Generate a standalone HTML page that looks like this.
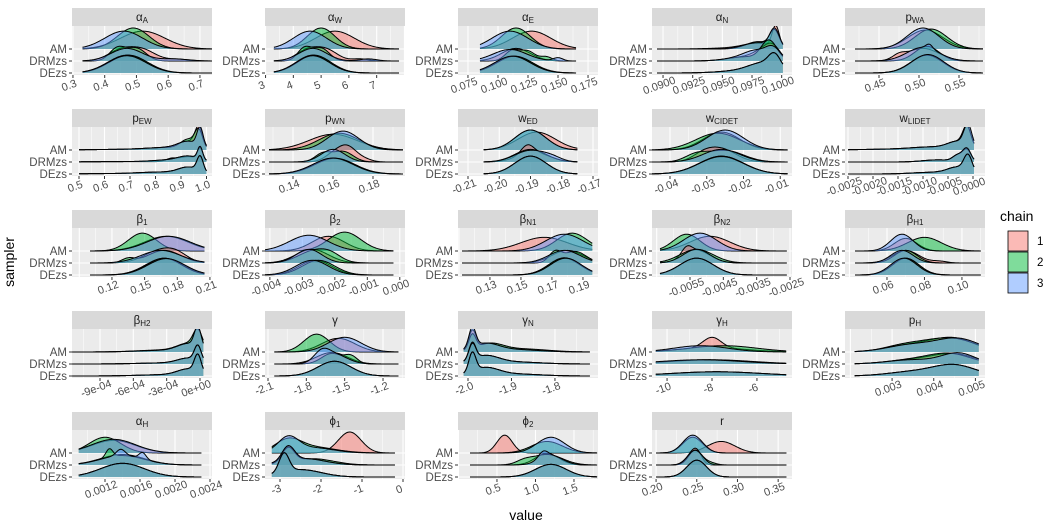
<!DOCTYPE html>
<html><head><meta charset="utf-8"><style>
html,body{margin:0;padding:0;background:#fff;}
svg{display:block;font-family:"Liberation Sans",sans-serif;}
</style></head><body>
<svg id="chart" width="1051" height="528" viewBox="0 0 1051 528">
<defs id="defs"></defs>
<g id="plot"></g>
<text x="14" y="262" transform="rotate(-90 14 262)" text-anchor="middle" font-size="14" fill="#000">sampler</text>
<text x="526" y="520" text-anchor="middle" font-size="14" fill="#000">value</text>
<g>
<text x="1000" y="221" font-size="14" fill="#000">chain</text>
<rect x="1008" y="231" width="20" height="20" fill="#F8766D" fill-opacity="0.5" stroke="#000" stroke-width="0.8"/>
<rect x="1008" y="252" width="20" height="20" fill="#00BA38" fill-opacity="0.5" stroke="#000" stroke-width="0.8"/>
<rect x="1008" y="273" width="20" height="20" fill="#619CFF" fill-opacity="0.5" stroke="#000" stroke-width="0.8"/>
<text x="1037" y="245" font-size="11.5" fill="#000">1</text>
<text x="1037" y="266" font-size="11.5" fill="#000">2</text>
<text x="1037" y="287" font-size="11.5" fill="#000">3</text>
</g>
</svg>
<script>
const facetBase = ["α","α","α","α","p","p","p","w","w","w","β","β","β","β","β","β","γ","γ","γ","p","α","ϕ","ϕ","r"];
const facetSub = ["A","W","E","N","WA","EW","WN","ED","CIDET","LIDET","1","2","N1","N2","H1","H2","","N","H","H","H","1","2",""];
const facetDomains = [[0.297,0.738],[2.98,8.02],[0.0667,0.1833],[0.08907,0.10087],[0.4075,0.5825],
[0.4725,1.0216],[0.126,0.196],[-0.2132,-0.1684],[-0.0449,-0.0068],[-0.00256,0.00024],
[0.0833,0.2119],[-0.00415,0.00016],[0.1094,0.1997],[-0.00664,-0.00244],[0.0376,0.1123],
[-0.001152,0.000108],[-2.1235,-1.028],[-2.023,-1.701],[-10.67,-4.44],[0.00187,0.00523],
[0.000823,0.002423],[-3.366,0.049],[-0.006,1.812],[0.195,0.367]];
const facetRanges = [[0.33,0.77],[3.3,7.8],[0.085,0.165],[0.0895,0.1001],[0.42,0.58],
[0.5,1.0],[0.128,0.195],[-0.205,-0.175],[-0.045,-0.008],[-0.0025,0.00002],
[0.1,0.205],[-0.0042,-0.0002],[0.112,0.196],[-0.0064,-0.0026],[0.043,0.11],
[-0.00115,0.00003],[-2.05,-1.08],[-2.01,-1.72],[-10.5,-4.7],[0.0021,0.00508],
[0.0009,0.0023],[-3.2,-0.2],[0.15,1.8],[0.2,0.36]];
const facetTicks = [[0.3,0.4,0.5,0.6,0.7],[3,4,5,6,7],[0.075,0.1,0.125,0.15,0.175],[0.09,0.0925,0.095,0.0975,0.1],[0.45,0.5,0.55],
[0.5,0.6,0.7,0.8,0.9,1.0],[0.14,0.16,0.18],[-0.21,-0.2,-0.19,-0.18,-0.17],[-0.04,-0.03,-0.02,-0.01],[-0.0025,-0.002,-0.0015,-0.001,-0.0005,0],
[0.12,0.15,0.18,0.21],[-0.004,-0.003,-0.002,-0.001,0],[0.13,0.15,0.17,0.19],[-0.0055,-0.0045,-0.0035,-0.0025],[0.06,0.08,0.1],
[-0.0009,-0.0006,-0.0003,0],[-2.1,-1.8,-1.5,-1.2],[-2.0,-1.9,-1.8],[-10,-8,-6],[0.003,0.004,0.005],
[0.0012,0.0016,0.002,0.0024],[-3,-2,-1,0],[0.5,1.0,1.5],[0.2,0.25,0.3,0.35]];
const facetTickLabels = [["0.3","0.4","0.5","0.6","0.7"],["3","4","5","6","7"],["0.075","0.100","0.125","0.150","0.175"],["0.0900","0.0925","0.0950","0.0975","0.1000"],["0.45","0.50","0.55"],
["0.5","0.6","0.7","0.8","0.9","1.0"],["0.14","0.16","0.18"],["-0.21","-0.20","-0.19","-0.18","-0.17"],["-0.04","-0.03","-0.02","-0.01"],["-0.0025","-0.0020","-0.0015","-0.0010","-0.0005","0.0000"],
["0.12","0.15","0.18","0.21"],["-0.004","-0.003","-0.002","-0.001","0.000"],["0.13","0.15","0.17","0.19"],["-0.0055","-0.0045","-0.0035","-0.0025"],["0.06","0.08","0.10"],
["-9e-04","-6e-04","-3e-04","0e+00"],["-2.1","-1.8","-1.5","-1.2"],["-2.0","-1.9","-1.8"],["-10","-8","-6"],["0.003","0.004","0.005"],
["0.0012","0.0016","0.0020","0.0024"],["-3","-2","-1","0"],["0.5","1.0","1.5"],["0.20","0.25","0.30","0.35"]];
const samplers = ["AM","DRMzs","DEzs"];
// per facet: [AM, DRMzs, DEzs], each: [chain1, chain2, chain3], each chain: list of [mean, sd, amp]
const ridgeParams = [
[[[[0.52,0.07,0.85]],[[0.49,0.05,1.0]],[[0.46,0.06,0.85]]],
 [[[0.45,0.04,0.5],[0.52,0.04,0.5],[0.63,0.04,0.08]],[[0.44,0.025,0.6],[0.5,0.03,0.6]],[[0.47,0.05,0.6],[0.62,0.04,0.1]]],
 [[[0.47,0.06,0.85]],[[0.475,0.06,0.85]],[[0.47,0.06,0.82]]]],
[[[[5.5,0.7,0.85]],[[5.0,0.5,1.0]],[[4.6,0.6,0.85]]],
 [[[4.5,0.4,0.5],[5.2,0.4,0.5],[6.4,0.3,0.1]],[[4.4,0.25,0.6],[5.0,0.3,0.6]],[[4.7,0.5,0.6],[6.7,0.3,0.1]]],
 [[[4.7,0.6,0.85]],[[4.75,0.6,0.85]],[[4.7,0.6,0.82]]]],
[[[[0.128,0.016,0.85]],[[0.115,0.012,1.0]],[[0.11,0.015,0.85]]],
 [[[0.115,0.012,0.6]],[[0.112,0.006,0.5],[0.125,0.006,0.45],[0.14,0.005,0.2]],[[0.11,0.014,0.55],[0.15,0.004,0.15]]],
 [[[0.113,0.015,0.8]],[[0.114,0.015,0.8]],[[0.112,0.015,0.8]]]],
[[[[0.0995,0.0003,1.0],[0.098,0.0012,0.25],[0.096,0.002,0.05]],[[0.0994,0.0004,0.8],[0.098,0.001,0.35]],[[0.0994,0.0004,0.85],[0.098,0.0012,0.3]]],
 [[[0.0993,0.0006,0.5],[0.0985,0.0008,0.4],[0.097,0.0015,0.2]],[[0.0992,0.0006,0.5],[0.0987,0.0006,0.5],[0.097,0.0015,0.2]],[[0.0993,0.0006,0.5],[0.098,0.001,0.35],[0.097,0.0015,0.2]]],
 [[[0.0994,0.0005,0.6],[0.0985,0.0012,0.4],[0.097,0.002,0.12]],[[0.0994,0.0005,0.6],[0.0985,0.0012,0.4],[0.097,0.002,0.12]],[[0.0994,0.0005,0.6],[0.0985,0.0012,0.4],[0.097,0.002,0.12]]]],
[[[[0.508,0.022,0.9]],[[0.515,0.02,0.95]],[[0.505,0.02,1.0]]],
 [[[0.505,0.02,0.6],[0.475,0.008,0.2]],[[0.51,0.015,0.7]],[[0.505,0.02,0.65],[0.513,0.004,0.2]]],
 [[[0.51,0.02,0.85]],[[0.51,0.02,0.85]],[[0.511,0.02,0.88]]]],
[[[[0.97,0.015,0.9],[0.93,0.04,0.35],[0.85,0.08,0.1],[0.7,0.15,0.03]],[[0.97,0.015,0.8],[0.93,0.03,0.45],[0.85,0.08,0.1],[0.7,0.15,0.03]],[[0.975,0.012,0.9],[0.93,0.04,0.35],[0.85,0.08,0.1],[0.7,0.15,0.03]]],
 [[[0.975,0.01,0.55],[0.93,0.04,0.25],[0.86,0.02,0.12],[0.7,0.15,0.02]],[[0.975,0.01,0.55],[0.93,0.04,0.25],[0.85,0.06,0.08],[0.7,0.15,0.02]],[[0.975,0.01,0.6],[0.93,0.04,0.25],[0.85,0.06,0.08],[0.7,0.15,0.02]]],
 [[[0.975,0.012,0.7],[0.93,0.04,0.3],[0.82,0.08,0.08],[0.65,0.15,0.02]],[[0.975,0.012,0.7],[0.93,0.04,0.3],[0.82,0.08,0.08],[0.65,0.15,0.02]],[[0.975,0.012,0.7],[0.93,0.04,0.3],[0.82,0.08,0.08],[0.65,0.15,0.02]]]],
[[[[0.16,0.012,0.75]],[[0.163,0.01,0.8]],[[0.165,0.008,0.9]]],
 [[[0.162,0.005,0.5],[0.168,0.004,0.5],[0.175,0.004,0.15]],[[0.155,0.004,0.4],[0.165,0.005,0.5]],[[0.16,0.006,0.6]]],
 [[[0.16,0.01,0.75]],[[0.161,0.01,0.75]],[[0.16,0.01,0.76]]]],
[[[[-0.188,0.006,0.85]],[[-0.19,0.005,0.95]],[[-0.19,0.005,0.95]]],
 [[[-0.191,0.002,0.4],[-0.189,0.005,0.45]],[[-0.19,0.005,0.6]],[[-0.19,0.005,0.55],[-0.183,0.003,0.15]]],
 [[[-0.19,0.005,0.85]],[[-0.19,0.005,0.85]],[[-0.19,0.005,0.85]]]],
[[[[-0.026,0.005,0.85]],[[-0.027,0.006,0.8]],[[-0.025,0.005,0.95]]],
 [[[-0.026,0.004,0.6],[-0.031,0.003,0.3]],[[-0.025,0.005,0.55],[-0.033,0.003,0.3]],[[-0.026,0.005,0.6]]],
 [[[-0.026,0.006,0.85]],[[-0.026,0.006,0.85]],[[-0.026,0.006,0.83]]]],
[[[[-0.00012,0.00008,0.9],[-0.0003,0.0002,0.35],[-0.0008,0.0004,0.12],[-0.0015,0.0007,0.04]],[[-0.00012,0.00008,0.9],[-0.0003,0.0002,0.35],[-0.0008,0.0004,0.12],[-0.0015,0.0007,0.04]],[[-0.0001,0.00008,1.0],[-0.0003,0.0002,0.35],[-0.0008,0.0004,0.12],[-0.0015,0.0007,0.04]]],
 [[[-0.00012,0.00008,0.55],[-0.0003,0.0001,0.3],[-0.0007,0.0003,0.1]],[[-0.00012,0.00008,0.55],[-0.0003,0.0001,0.3],[-0.0007,0.0003,0.1]],[[-0.00012,0.00008,0.6],[-0.0003,0.0001,0.3],[-0.0007,0.0003,0.1]]],
 [[[-0.0001,0.00008,0.75],[-0.0003,0.0002,0.3],[-0.0008,0.0004,0.08]],[[-0.0001,0.00008,0.75],[-0.0003,0.0002,0.3],[-0.0008,0.0004,0.08]],[[-0.0001,0.00008,0.75],[-0.0003,0.0002,0.3],[-0.0008,0.0004,0.08]]]],
[[[[0.17,0.02,0.7]],[[0.148,0.013,0.85]],[[0.172,0.02,0.7]]],
 [[[0.165,0.015,0.6],[0.18,0.01,0.25]],[[0.168,0.015,0.6],[0.135,0.006,0.2]],[[0.165,0.018,0.6]]],
 [[[0.168,0.017,0.8]],[[0.168,0.016,0.8]],[[0.17,0.017,0.78]]]],
[[[[-0.0022,0.0005,0.7]],[[-0.0017,0.0005,0.9]],[[-0.0028,0.0006,0.75]]],
 [[[-0.0027,0.0005,0.65]],[[-0.0026,0.0005,0.6],[-0.0021,0.0003,0.2]],[[-0.0028,0.0004,0.65]]],
 [[[-0.0026,0.0005,0.7]],[[-0.0025,0.0005,0.7]],[[-0.0027,0.0005,0.7]]]],
[[[[0.165,0.015,0.65]],[[0.183,0.01,0.85]],[[0.178,0.012,0.8]]],
 [[[0.18,0.01,0.6]],[[0.172,0.004,0.5],[0.185,0.007,0.55]],[[0.178,0.01,0.6]]],
 [[[0.178,0.01,0.8]],[[0.178,0.01,0.82]],[[0.179,0.01,0.8]]]],
[[[[-0.0049,0.0006,0.7]],[[-0.0056,0.0004,0.8]],[[-0.0052,0.0005,0.85]]],
 [[[-0.0053,0.0004,0.6],[-0.0056,0.00015,0.35]],[[-0.0053,0.0005,0.65]],[[-0.0053,0.0004,0.65]]],
 [[[-0.0053,0.0005,0.8]],[[-0.0053,0.0005,0.8]],[[-0.0053,0.0005,0.8]]]],
[[[[0.07,0.006,0.6]],[[0.08,0.009,0.65]],[[0.068,0.006,0.8]]],
 [[[0.07,0.007,0.6],[0.088,0.004,0.08]],[[0.07,0.006,0.6]],[[0.068,0.006,0.6]]],
 [[[0.07,0.007,0.8]],[[0.07,0.007,0.8]],[[0.069,0.007,0.8]]]],
[[[[-0.00002,0.00003,0.9],[-0.0001,0.0001,0.35],[-0.0003,0.00025,0.08]],[[-0.00002,0.00004,0.8],[-0.0001,0.0001,0.35],[-0.0003,0.00025,0.1]],[[-0.00002,0.00003,0.95],[-0.0001,0.0001,0.35],[-0.0003,0.00025,0.08]]],
 [[[-0.00002,0.00003,0.7],[-0.0001,0.0001,0.25],[-0.0003,0.00025,0.05]],[[-0.00002,0.00003,0.7],[-0.0001,0.0001,0.25],[-0.0003,0.00025,0.05]],[[-0.00002,0.00003,0.7],[-0.0001,0.0001,0.25],[-0.0003,0.00025,0.05]]],
 [[[-0.00002,0.00003,0.8],[-0.0001,0.0001,0.3],[-0.0003,0.00025,0.06]],[[-0.00002,0.00003,0.8],[-0.0001,0.0001,0.3],[-0.0003,0.00025,0.06]],[[-0.00002,0.00003,0.8],[-0.0001,0.0001,0.3],[-0.0003,0.00025,0.06]]]],
[[[[-1.55,0.13,0.65]],[[-1.72,0.1,0.85]],[[-1.5,0.13,0.7]]],
 [[[-1.6,0.12,0.55]],[[-1.6,0.08,0.5],[-1.45,0.05,0.35]],[[-1.68,0.06,0.45],[-1.58,0.1,0.45]]],
 [[[-1.58,0.13,0.7]],[[-1.58,0.13,0.7]],[[-1.58,0.13,0.7]]]],
[[[[-1.99,0.008,0.8],[-1.96,0.03,0.35],[-1.9,0.06,0.12]],[[-1.99,0.008,0.7],[-1.95,0.03,0.35],[-1.88,0.06,0.15]],[[-1.99,0.008,0.95],[-1.96,0.03,0.35],[-1.9,0.06,0.12]]],
 [[[-1.99,0.008,0.8],[-1.96,0.03,0.35],[-1.9,0.06,0.1]],[[-1.99,0.008,0.75],[-1.96,0.03,0.35],[-1.9,0.06,0.1]],[[-1.99,0.008,0.75],[-1.96,0.03,0.35],[-1.9,0.06,0.1]]],
 [[[-1.99,0.008,0.9],[-1.96,0.03,0.35],[-1.9,0.06,0.1]],[[-1.99,0.008,0.9],[-1.96,0.03,0.35],[-1.9,0.06,0.1]],[[-1.99,0.008,0.9],[-1.96,0.03,0.35],[-1.9,0.06,0.1]]]],
[[[[-8,0.4,0.5],[-8,1.5,0.2]],[[-7.5,1.5,0.3]],[[-8.5,1.2,0.3]]],
 [[[-8,1.8,0.2]],[[-8.2,1.8,0.2]],[[-8.5,1.8,0.2]]],
 [[[-7.8,2,0.2]],[[-7.8,2,0.2]],[[-7.8,2,0.2]]]],
[[[[0.0045,0.0005,0.6],[0.0035,0.0006,0.35]],[[0.0044,0.0006,0.65],[0.0033,0.0005,0.3]],[[0.0046,0.0005,0.6],[0.0035,0.0006,0.35]]],
 [[[0.0045,0.0005,0.45],[0.0035,0.0006,0.2]],[[0.0044,0.0005,0.45],[0.0035,0.0006,0.2]],[[0.0046,0.0004,0.5],[0.0035,0.0006,0.2]]],
 [[[0.0045,0.0005,0.5],[0.0035,0.0006,0.2]],[[0.0045,0.0005,0.5],[0.0035,0.0006,0.2]],[[0.0045,0.0005,0.5],[0.0035,0.0006,0.2]]]],
[[[[0.0013,0.00025,0.6]],[[0.0012,0.00018,0.75]],[[0.0013,0.00025,0.65]]],
 [[[0.0014,0.00025,0.5]],[[0.00125,0.00004,0.4],[0.0014,0.00025,0.45]],[[0.00138,0.00005,0.3],[0.00163,0.00004,0.3],[0.0014,0.00025,0.45]]],
 [[[0.0014,0.00025,0.65]],[[0.0014,0.00025,0.65]],[[0.0014,0.00025,0.65]]]],
[[[[-1.3,0.28,1.0]],[[-2.8,0.3,0.5],[-2.3,0.6,0.3]],[[-2.8,0.25,0.7],[-2.2,0.5,0.25]]],
 [[[-2.8,0.15,0.7],[-2.4,0.5,0.3]],[[-2.8,0.15,0.7],[-2.2,0.5,0.3]],[[-2.8,0.15,0.7],[-2.4,0.5,0.3]]],
 [[[-2.9,0.12,0.9],[-2.5,0.5,0.35]],[[-2.9,0.12,0.9],[-2.5,0.5,0.35]],[[-2.9,0.12,0.9],[-2.5,0.5,0.35]]]],
[[[[0.6,0.1,0.85]],[[1.15,0.2,0.55]],[[1.2,0.18,0.75]]],
 [[[1.15,0.15,0.55]],[[1.15,0.2,0.5],[0.85,0.1,0.15]],[[1.1,0.06,0.3],[1.2,0.15,0.45]]],
 [[[1.2,0.2,0.6]],[[1.2,0.2,0.6]],[[1.2,0.2,0.6]]]],
[[[[0.28,0.017,0.55]],[[0.245,0.012,0.75]],[[0.245,0.012,0.85]]],
 [[[0.25,0.006,0.5],[0.243,0.008,0.4]],[[0.248,0.008,0.7],[0.265,0.008,0.12]],[[0.248,0.009,0.7]]],
 [[[0.25,0.012,0.8]],[[0.25,0.012,0.8]],[[0.25,0.012,0.8]]]]
];
const chainColors = ["#F8766D","#00BA38","#619CFF"];

const NS = "http://www.w3.org/2000/svg";
const plot = document.getElementById("plot");
const defs = document.getElementById("defs");
const colX = [72,265,458,652,845];
const rowY = [8,109,210,311,412];
const PW = 140, STRIP = 18, PH = 49, BASE = [41,53,65], SCALE = 21;
function mk(tag, attrs, parent){const e=document.createElementNS(NS,tag);for(const k in attrs)e.setAttribute(k,attrs[k]);(parent||plot).appendChild(e);return e;}

facetBase.forEach((b,f)=>{
  const x0 = colX[f%5], T = rowY[Math.floor(f/5)];
  const [d0,d1] = facetDomains[f];
  const sx = v => x0 + (v-d0)/(d1-d0)*PW;
  const g = mk("g",{});
  
  
  const strip = mk("rect",{x:x0,y:T,width:PW,height:STRIP,fill:"#D9D9D9"},g);
  
  
  const st = mk("text",{x:x0+PW/2,y:T+13,"text-anchor":"middle","font-size":"11.5",fill:"#1A1A1A"},g);
  
  
  st.textContent = b;
  if(facetSub[f]){const ts=mk("tspan",{"font-size":"8","dy":"2"},st);ts.textContent=facetSub[f];}
  const bg = mk("rect",{x:x0,y:T+STRIP,width:PW,height:PH,fill:"#EBEBEB"},g);
  
  
  const ticks = facetTicks[f];
  const step = ticks[1]-ticks[0];
  for(let v=ticks[0]-step*3; v<=ticks[ticks.length-1]+step*3; v+=step/2){
    const px = sx(v); if(px<x0||px>x0+PW) continue;
    const major = Math.abs(((v-ticks[0])/step) - Math.round((v-ticks[0])/step))<0.01;
    mk("line",{x1:px,x2:px,y1:T+STRIP,y2:T+STRIP+PH,stroke:"#fff","stroke-width":major?1.1:0.5},g);
  }
  BASE.forEach(by=>mk("line",{x1:x0,x2:x0+PW,y1:T+by,y2:T+by,stroke:"#fff","stroke-width":1.1},g));
  const cid = "clip"+f;
  const cp = mk("clipPath",{id:cid},defs);
  mk("rect",{x:x0,y:T+STRIP,width:PW,height:PH},cp);
  const rg = mk("g",{"clip-path":"url(#"+cid+")"},g);
  const [lo,hi] = facetRanges[f];
  ridgeParams[f].forEach((sampler,si)=>{
    const by = T+BASE[si];
    sampler.forEach((comps,ci)=>{
      const N=160; let pts=[];
      for(let i=0;i<=N;i++){
        const v = lo+(hi-lo)*i/N;
        let d=0; comps.forEach(([m,s,a])=>{d+=a*Math.exp(-0.5*((v-m)/s)**2);});
        pts.push([sx(v), by - d*SCALE]);
      }
      const line = pts.map((p,i)=>(i?"L":"M")+p[0].toFixed(2)+","+p[1].toFixed(2)).join("");
      const fill = mk("path",{d:line+"L"+pts[N][0].toFixed(2)+","+by+"L"+pts[0][0].toFixed(2)+","+by+"Z",fill:chainColors[ci],"fill-opacity":"0.5",stroke:"none"},rg);
      
      
      mk("path",{d:line,fill:"none",stroke:"#000","stroke-width":"1"},rg);
    });
  });
  // y axis
  samplers.forEach((s,si)=>{
    const by=T+BASE[si];
    mk("line",{x1:x0-3,x2:x0,y1:by,y2:by,stroke:"#333","stroke-width":1},g);
    const t=mk("text",{x:x0-5,y:by+4,"text-anchor":"end","font-size":"11.5",fill:"#4D4D4D"},g);
    
    
    t.textContent=s;
  });
  // x axis
  ticks.forEach((v,i)=>{
    const px=sx(v); const yb=T+STRIP+PH;
    mk("line",{x1:px,x2:px,y1:yb,y2:yb+3,stroke:"#333","stroke-width":1},g);
    const t=mk("text",{x:px-4,y:yb+14,"text-anchor":"middle","font-size":"11",fill:"#4D4D4D",transform:"rotate(-20 "+(px-4)+" "+(yb+10)+")"},g);
    
    
    t.textContent=facetTickLabels[f][i];
  });
});
</script>
</body></html>
